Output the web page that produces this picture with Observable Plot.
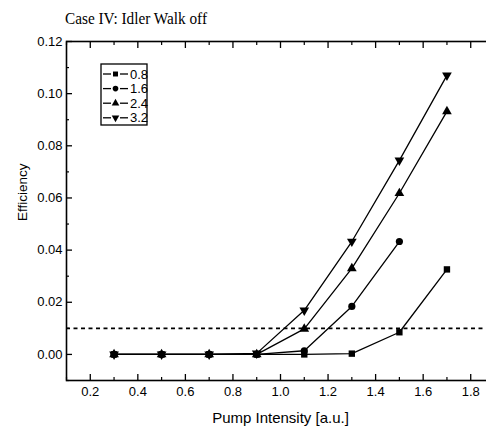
<!DOCTYPE html>
<html>
<head>
<meta charset="utf-8">
<script src="https://cdn.jsdelivr.net/npm/d3@7"></script>
<script src="https://cdn.jsdelivr.net/npm/@observablehq/plot@0.6"></script>
<style>
  html, body { margin: 0; padding: 0; background: #fff; overflow: hidden; width: 486px; height: 427px; }
  #chart { width: 486px; height: 427px; overflow: hidden; }
  #chart svg { display: block; max-width: none !important; }
</style>
</head>
<body>
<div id="chart"></div>
<script>
// ---- data ----
const pumpIntensity = [0.3, 0.5, 0.7, 0.9, 1.1, 1.3, 1.5, 1.7];
const seriesNames = ["0.8", "1.6", "2.4", "3.2"];
const eff08 = [0, 0, 0, 0, 0, 0.0003, 0.0085, 0.0326];
const eff16 = [0, 0, 0, 0, 0.0014, 0.0184, 0.0433];
const eff24 = [0, 0, 0, 0, 0.0098, 0.0330, 0.0618, 0.0932];
const eff32 = [0, 0, 0, 0.0004, 0.0169, 0.0433, 0.0744, 0.1070];
const thresholdValue = [0.01];
const xMajorTicks = [0.2, 0.4, 0.6, 0.8, 1.0, 1.2, 1.4, 1.6, 1.8];
const xMinorTicks = [0.1, 0.3, 0.5, 0.7, 0.9, 1.1, 1.3, 1.5, 1.7, 1.9];
const yMajorTicks = [0.00, 0.02, 0.04, 0.06, 0.08, 0.10, 0.12];
const yMinorTicks = [-0.01, 0.01, 0.03, 0.05, 0.07, 0.09, 0.11];
const titleText = "Case IV: Idler Walk off";
const xTitle = "Pump Intensity [a.u.]";
const yTitle = "Efficiency";

const seriesValues = [eff08, eff16, eff24, eff32];
const symbols = ["square", "circle", "triangle", "triangle"];
const rotations = [0, 0, 0, 180];

const rows = [];
seriesValues.forEach((vals, i) => {
  vals.forEach((v, j) => rows.push({series: seriesNames[i], x: pumpIntensity[j], y: v}));
});

const font = "'Liberation Sans', Arial, sans-serif";
const noText = () => "";

const marks = [
  Plot.ruleY(thresholdValue, {stroke: "black", strokeWidth: 1.6, strokeDasharray: "4,3.5"}),
  Plot.line(rows, {x: "x", y: "y", z: "series", stroke: "black", strokeWidth: 1.3}),
  ...seriesNames.map((name, i) => Plot.dot(rows.filter(d => d.series === name), {
    x: "x", y: "y", symbol: () => symbols[i], r: 3.6, fill: "black", stroke: "none", rotate: rotations[i]
  })),
  Plot.frame({stroke: "black", strokeWidth: 1.6}),
  // bottom axis
  Plot.axisX({anchor: "bottom", ticks: xMajorTicks, tickSize: -6, tickFormat: noText, strokeWidth: 1.3}),
  Plot.axisX({anchor: "bottom", ticks: xMinorTicks, tickSize: -3, tickFormat: noText, strokeWidth: 1.2}),
  Plot.axisX({anchor: "bottom", ticks: xMajorTicks, tickSize: 0, tickPadding: 6, tickFormat: d3.format(".1f"), fontSize: 13, label: null}),
  // top axis
  Plot.axisX({anchor: "top", ticks: xMajorTicks, tickSize: -6, tickFormat: noText, label: null, strokeWidth: 1.3}),
  Plot.axisX({anchor: "top", ticks: xMinorTicks, tickSize: -3, tickFormat: noText, label: null, strokeWidth: 1.2}),
  // left axis
  Plot.axisY({anchor: "left", ticks: yMajorTicks, tickSize: -6, tickFormat: noText, strokeWidth: 1.3}),
  Plot.axisY({anchor: "left", ticks: yMinorTicks, tickSize: -3, tickFormat: noText, strokeWidth: 1.2}),
  Plot.axisY({anchor: "left", ticks: yMajorTicks, tickSize: 0, tickPadding: 4, tickFormat: d3.format(".2f"), fontSize: 13, label: null}),
  // right axis
  Plot.axisY({anchor: "right", ticks: yMajorTicks, tickSize: -6, tickFormat: noText, label: null, strokeWidth: 1.3}),
  Plot.axisY({anchor: "right", ticks: yMinorTicks, tickSize: -3, tickFormat: noText, label: null, strokeWidth: 1.2}),
  // axis titles
  Plot.text([xTitle], {frameAnchor: "bottom", dy: 38, fontSize: 15, lineAnchor: "middle", fill: "black"}),
  Plot.text([yTitle], {frameAnchor: "left", dx: -44, dy: 10, rotate: -90, fontSize: 13.5, lineAnchor: "middle", fill: "black"})
];

const chart = Plot.plot({
  width: 520,
  height: 427,
  marginLeft: 66,
  marginRight: 26,
  marginTop: 41,
  marginBottom: 47,
  x: {domain: [0.1, 1.9], label: null},
  y: {domain: [-0.01, 0.12], label: null},
  style: {fontFamily: font, color: "black", background: "white", maxWidth: "none"},
  marks
});
chart.style.maxWidth = "none";
chart.style.width = "520px";
chart.style.height = "427px";

document.getElementById("chart").appendChild(chart);

// title and legend (layout only)
const svg = d3.select(chart);
svg.append("text")
  .attr("x", 65).attr("y", 24)
  .attr("text-anchor", "start")
  .attr("font-family", "'Liberation Serif', 'Times New Roman', serif")
  .attr("font-size", 16)
  .attr("textLength", 142)
  .attr("lengthAdjust", "spacingAndGlyphs")
  .attr("fill", "black")
  .text(titleText);

const lg = svg.append("g").attr("transform", "translate(101,64)");
lg.append("rect").attr("x", 0).attr("y", 0).attr("width", 46).attr("height", 61)
  .attr("fill", "white").attr("stroke", "black").attr("stroke-width", 1.3);
const symMap = {square: d3.symbolSquare, circle: d3.symbolCircle, triangle: d3.symbolTriangle};
seriesNames.forEach((name, i) => {
  const cy = 10 + i * 14.6;
  const g = lg.append("g").attr("transform", `translate(0,${cy})`);
  g.append("line").attr("x1", 2).attr("x2", 10).attr("y1", 0).attr("y2", 0).attr("stroke", "black").attr("stroke-width", 1.3);
  g.append("line").attr("x1", 19).attr("x2", 27).attr("y1", 0).attr("y2", 0).attr("stroke", "black").attr("stroke-width", 1.3);
  g.append("path")
    .attr("d", d3.symbol(symMap[symbols[i]], Math.PI * 2.8 * 2.8)())
    .attr("transform", `translate(14.5,0) rotate(${rotations[i]})`)
    .attr("fill", "black");
  g.append("text").attr("x", 29).attr("y", 0).attr("dy", "0.36em")
    .attr("text-anchor", "start")
    .attr("font-family", font).attr("font-size", 13).attr("fill", "black").text(name);
});
</script>
</body>
</html>
